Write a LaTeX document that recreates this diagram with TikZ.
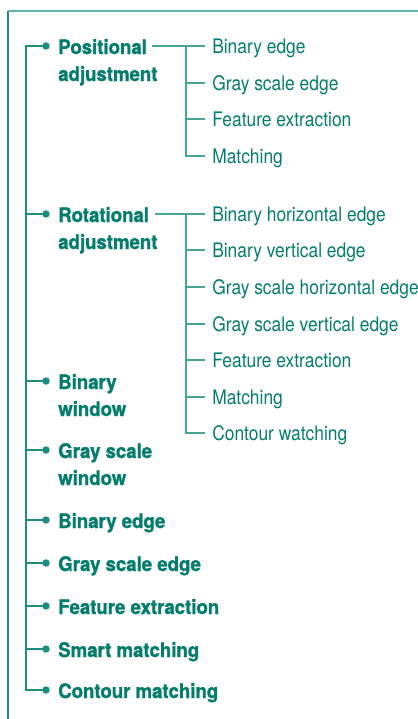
\documentclass[tikz,border=0pt]{standalone}
\usepackage{fontspec}
\setmainfont{TeX Gyre Heros}[FakeStretch=0.87]
\newfontfamily\headfont{TeX Gyre Heros}[UprightFont={* Bold},FakeStretch=0.93,FakeBold=1.4]
\definecolor{tealtext}{HTML}{057D6C}
\definecolor{tealline}{HTML}{1E8C7E}
\definecolor{tealtwig}{HTML}{45A596}
\definecolor{tealframe}{HTML}{5DB4A7}
\begin{document}
\begin{tikzpicture}[x=0.75pt,y=-0.75pt,
        head/.style={anchor=base west,inner sep=0pt,align=left,text=tealtext,
            font=\headfont\fontsize{15}{20.25}\selectfont},
        leaf/.style={anchor=west,inner xsep=5.25pt,inner ysep=0pt,text height=11.25pt,
            text depth=0pt,text=tealtext,font=\fontsize{15}{18}\selectfont},
        bullet/.style={circle,fill=tealline,inner sep=0pt,minimum size=5.6pt},
        trunk/.style={draw=tealline,line width=0.8pt},
        twig/.style={draw=tealtwig,line width=0.8pt}]
            \useasboundingbox (0,0) rectangle (418,719);
            \draw[draw=tealline,line width=0.8pt] (8,719) -- (8,11);
            \draw[draw=tealframe,line width=1pt] (7.5,11) -- (418,11);

            \node[bullet] (d1) at (46,46) {};
            \node[bullet] (d2) at (46,214) {};
            \node[bullet] (d3) at (46,381) {};
            \node[bullet] (d4) at (46,450) {};
            \node[bullet] (d5) at (46,520) {};
            \node[bullet] (d6) at (46,563) {};
            \node[bullet] (d7) at (46,606) {};
            \node[bullet] (d8) at (46,649) {};
            \node[bullet] (d9) at (46,690) {};

            \node[head] (pos) at (58,81) {Positional\\adjustment};
            \node[head] (rot) at (58,249) {Rotational\\adjustment};
            \node[head] (binwin) at (58,416) {Binary\\window};
            \node[head] (graywin) at (58,485) {Gray scale\\window};
            \node[head] (binedge) at (58,528) {Binary edge};
            \node[head] (grayedge) at (58,571) {Gray scale edge};
            \node[head] (feat) at (58,614) {Feature extraction};
            \node[head] (smart) at (58,657) {Smart matching};
            \node[head] (contour) at (58,698) {Contour matching};

            \coordinate (top) at (26,46);
            \coordinate (bot) at (26,690);
            \draw[trunk] (d1.center) -- (top) -- (bot) -- (d9.center);
            \draw[trunk] (d2.center) -- (d2 -| top);
            \draw[trunk] (d3.center) -- (d3 -| top);
            \draw[trunk] (d4.center) -- (d4 -| top);
            \draw[trunk] (d5.center) -- (d5 -| top);
            \draw[trunk] (d6.center) -- (d6 -| top);
            \draw[trunk] (d7.center) -- (d7 -| top);
            \draw[trunk] (d8.center) -- (d8 -| top);

            \node[leaf] (p1) at (205,46) {Binary edge};
            \node[leaf] (p2) at (205,83) {Gray scale edge};
            \node[leaf] (p3) at (205,119) {Feature extraction};
            \node[leaf] (p4) at (205,156) {Matching};

            \coordinate (posend) at (152,46);
            \coordinate (postop) at (186,46);
            \draw[twig] (posend) -- (p1.west);
            \draw[twig] (postop) |- (p4.west);
            \draw[twig] (p2.west) -- (p2.west -| postop);
            \draw[twig] (p3.west) -- (p3.west -| postop);

            \node[leaf] (r1) at (205,214) {Binary horizontal edge};
            \node[leaf] (r2) at (205,250) {Binary vertical edge};
            \node[leaf] (r3) at (205,287) {Gray scale horizontal edge};
            \node[leaf] (r4) at (205,324) {Gray scale vertical edge};
            \node[leaf] (r5) at (205,360) {Feature extraction};
            \node[leaf] (r6) at (205,397) {Matching};
            \node[leaf] (r7) at (205,433) {Contour watching};

            \coordinate (rotend) at (155,214);
            \coordinate (rottop) at (186,214);
            \draw[twig] (rotend) -- (r1.west);
            \draw[twig] (rottop) |- (r7.west);
            \draw[twig] (r2.west) -- (r2.west -| rottop);
            \draw[twig] (r3.west) -- (r3.west -| rottop);
            \draw[twig] (r4.west) -- (r4.west -| rottop);
            \draw[twig] (r5.west) -- (r5.west -| rottop);
            \draw[twig] (r6.west) -- (r6.west -| rottop);
        \end{tikzpicture}
\end{document}
